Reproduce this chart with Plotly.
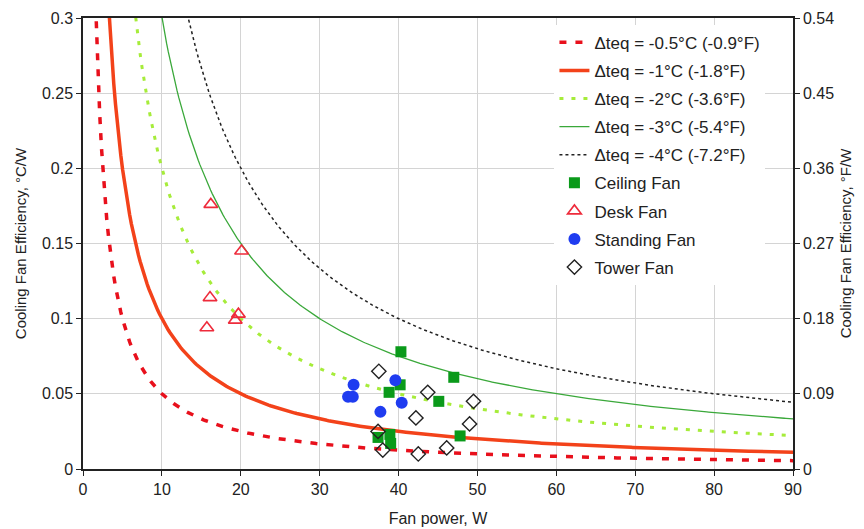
import numpy as np
import plotly.graph_objects as go

# Iso-efficiency lines: efficiency (°C/W) = |Δteq| / fan power
DT_C = [0.5, 1, 2, 3, 4]
CURVE_NAMES = [
    "Δteq = -0.5°C (-0.9°F)",
    "Δteq = -1°C (-1.8°F)",
    "Δteq = -2°C (-3.6°F)",
    "Δteq = -3°C (-5.4°F)",
    "Δteq = -4°C (-7.2°F)",
]
POWER_GRID = np.linspace(1.0, 90.0, 400)

# Measured fans (power W, efficiency °C/W)
ceiling_x = [40.3, 47.0, 40.2, 38.8, 45.1, 47.8, 37.4, 38.9, 39.0]
ceiling_y = [0.078, 0.061, 0.056, 0.051, 0.045, 0.022, 0.021, 0.023, 0.017]
desk_x = [16.2, 20.1, 16.1, 19.7, 19.3, 15.7]
desk_y = [0.176, 0.145, 0.114, 0.103, 0.099, 0.094]
standing_x = [34.3, 33.6, 34.2, 39.6, 40.4, 37.7]
standing_y = [0.056, 0.048, 0.048, 0.059, 0.044, 0.038]
tower_x = [37.5, 43.7, 49.5, 42.2, 49.0, 37.4, 38.0, 42.5, 46.1]
tower_y = [0.065, 0.051, 0.045, 0.034, 0.030, 0.025, 0.0126, 0.010, 0.014]

X_TICKS = [0, 10, 20, 30, 40, 50, 60, 70, 80, 90]
Y_TICKS = [0, 0.05, 0.1, 0.15, 0.2, 0.25, 0.3]
Y2_TICKS = [0, 0.09, 0.18, 0.27, 0.36, 0.45, 0.54]
Y2_LABELS = ["0", "0.09", "0.18", "0.27", "0.36", "0.45", "0.54"]

curve_styles = [
    dict(color="#e8101c", width=3.5, dash="7px,9px"),
    dict(color="#f3421a", width=3.5, dash="solid"),
    dict(color="#a6ec3a", width=3, dash="4px,8px"),
    dict(color="#3aa83a", width=1.3, dash="solid"),
    dict(color="#222222", width=1.5, dash="3px,3px"),
]

fig = go.Figure()
for i, (dt, name, st) in enumerate(zip(DT_C, CURVE_NAMES, curve_styles)):
    fig.add_trace(go.Scatter(
        x=POWER_GRID, y=dt / POWER_GRID, mode="lines", name=name,
        line=st, legendgroup=f"g{i}", hoverinfo="skip"))

fig.add_trace(go.Scatter(
    x=ceiling_x, y=ceiling_y, mode="markers", name="Ceiling Fan", legendgroup="g5",
    marker=dict(symbol="square", size=11, color="#0a9a1a")))
fig.add_trace(go.Scatter(
    x=desk_x, y=desk_y, mode="markers", name="Desk Fan", legendgroup="g6",
    marker=dict(symbol="triangle-up-open", size=12, color="#ee2b3b", line=dict(width=1.6))))
fig.add_trace(go.Scatter(
    x=standing_x, y=standing_y, mode="markers", name="Standing Fan", legendgroup="g7",
    marker=dict(symbol="circle", size=12, color="#1f3cf0")))
fig.add_trace(go.Scatter(
    x=tower_x, y=tower_y, mode="markers", name="Tower Fan", legendgroup="g8",
    marker=dict(symbol="diamond-open", size=11, color="#222222", line=dict(width=1.4))))

# invisible trace to anchor the °F/W axis
fig.add_trace(go.Scatter(x=[0], y=[0], yaxis="y2", mode="markers",
                         marker=dict(opacity=0), showlegend=False, hoverinfo="skip"))

axis_font = dict(family="Liberation Sans, Arial, sans-serif", size=16, color="#222222")

fig.update_layout(
    width=856, height=521,
    margin=dict(l=75, r=71, t=10, b=60),
    paper_bgcolor="white", plot_bgcolor="white",
    font=axis_font,
    showlegend=True,
    legend=dict(x=0.664, y=0.985, xanchor="left", yanchor="top",
                bgcolor="white", borderwidth=0, tracegroupgap=3,
                traceorder="grouped", font=dict(size=17, color="#222222")),
    xaxis=dict(range=[0, 90], tickvals=X_TICKS, showgrid=True, gridcolor="#d4d4d4",
               gridwidth=1, showline=True, linecolor="#222222", linewidth=1.5,
               mirror=True, ticks="outside", ticklen=5, tickcolor="#222222",
               zeroline=False, automargin=False, tickfont=dict(size=16),
               title=dict(text="Fan power, W", font=dict(size=16), standoff=16)),
    yaxis=dict(range=[0, 0.3], tickvals=Y_TICKS, showgrid=True, gridcolor="#d4d4d4",
               gridwidth=1, showline=True, linecolor="#222222", linewidth=1.5,
               mirror=True, ticks="outside", ticklen=5, tickcolor="#222222",
               zeroline=False, automargin=False, tickfont=dict(size=16),
               title=dict(text="Cooling Fan Efficiency, °C/W", font=dict(size=15), standoff=12)),
    yaxis2=dict(range=[0, 0.54], overlaying="y", side="right", tickvals=Y2_TICKS,
                ticktext=Y2_LABELS, showgrid=False, showline=True, linecolor="#222222",
                linewidth=1.5, ticks="outside", ticklen=5, tickcolor="#222222",
                zeroline=False, automargin=False, tickfont=dict(size=16),
                title=dict(text="Cooling Fan Efficiency, °F/W", font=dict(size=15), standoff=7)),
)

fig.write_html("out.html")
